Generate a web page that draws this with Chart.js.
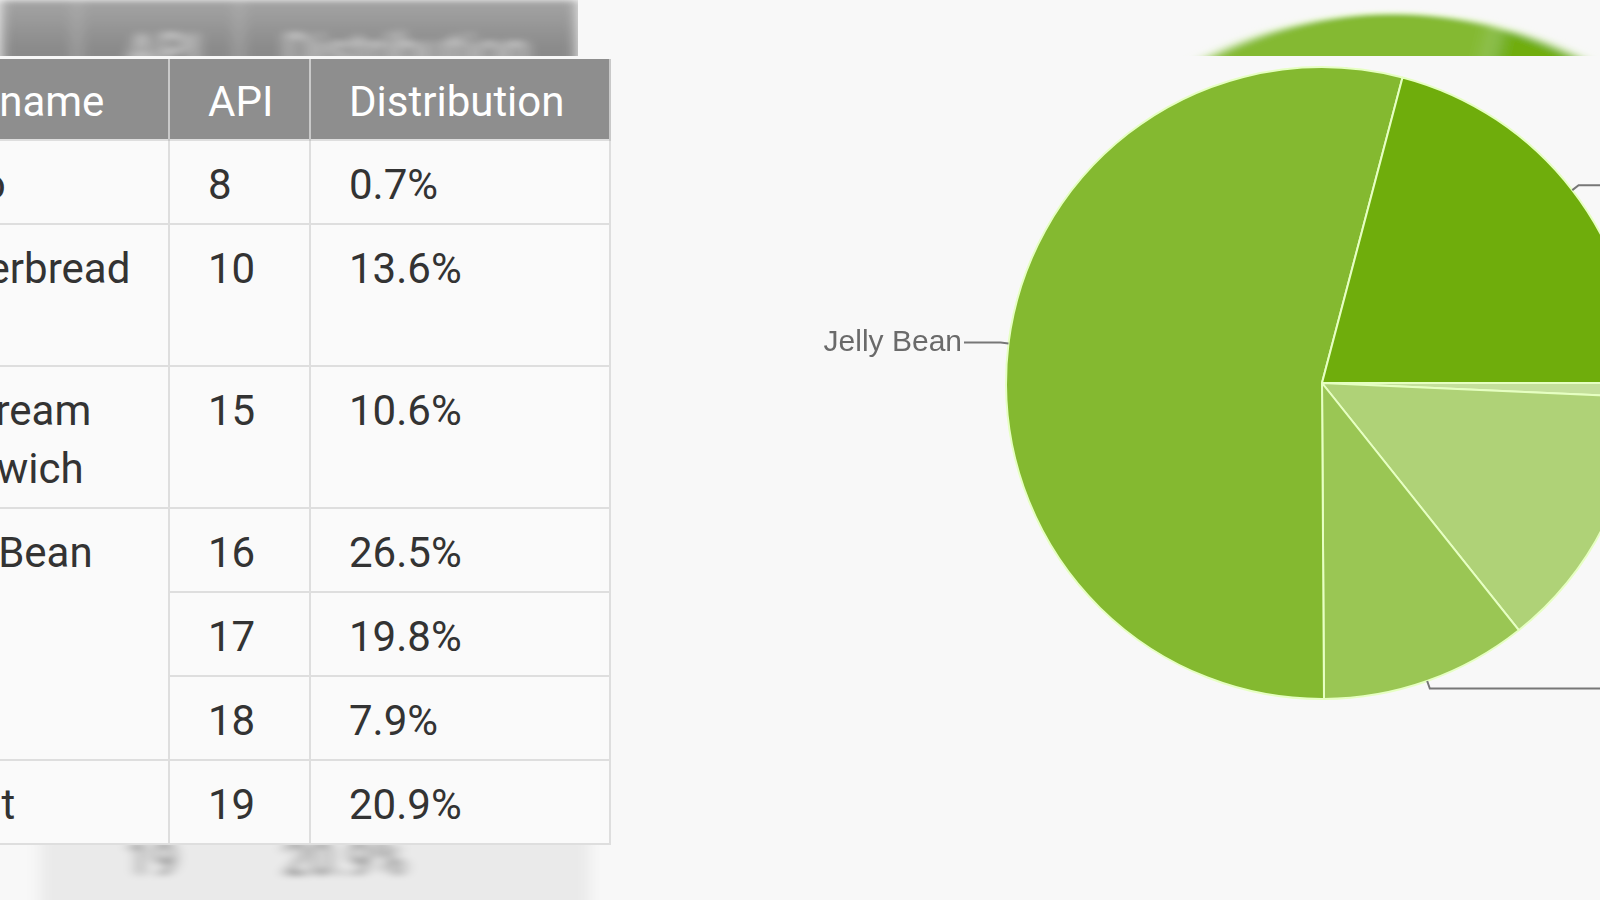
<!DOCTYPE html>
<html>
<head>
<meta charset="utf-8">
<script src="https://cdn.jsdelivr.net/npm/chart.js@4.4.1/dist/chart.umd.min.js"></script>
<style>
  html, body { margin: 0; padding: 0; width: 1600px; height: 900px; overflow: hidden; background: #f8f8f8; }
  #stage { position: relative; width: 1600px; height: 900px; overflow: hidden; font-family: Roboto, "Liberation Sans", sans-serif; }

  /* version table */
  #dist { position: absolute; left: -338px; top: 59px; width: 947px; table-layout: fixed; border-collapse: collapse;
          font-size: 42px; color: #333; background: #fafafa; }
  #dist th { background: #8e8e8e; color: #fff; font-weight: normal; text-align: left; line-height: 58px;
             padding: 14px 20px 8px 38px; border-left: 2px solid #c9c9c9; border-right: 2px solid #c9c9c9; }
  #dist td { line-height: 58px; vertical-align: top; padding: 15px 20px 9px 38px; border: 2px solid #dedede; }

  /* blurred ghost strips from the screenshot */
  .ghost { position: absolute; overflow: hidden; }
  #ghostTop { left: 0; top: 0; width: 578px; height: 56px; }
  #ghostTopInner { position: absolute; left: 0; top: 0; width: 578px; height: 70px; background: linear-gradient(#a4a4a4, #8a8a8a 70%);
                   filter: url(#hblur); font-size: 48px; color: #d4d4d4; }
  #ghostBottom { left: 0; top: 845px; width: 600px; height: 55px; }
  #ghostBottomInner { position: absolute; left: 40px; top: -6px; width: 550px; height: 70px; background: #eaeaea;
                      filter: url(#hblur); font-size: 46px; color: #505050; }
  .gtxt { position: absolute; line-height: 48px; white-space: nowrap; }
  .gsep { position: absolute; top: 0; width: 4px; height: 70px; background: #b8b8b8; }
  #ghostPie { left: 0; top: 0; width: 1600px; height: 56px; }
  #ghostPieBox { position: absolute; left: 943px; top: -26px; width: 900px; height: 900px; filter: url(#hblur2); }

  #pieBox { position: absolute; left: 672px; top: 0; width: 1300px; height: 766px; }
</style>
</head>
<body>
<svg width="0" height="0" style="position:absolute">
  <filter id="hblur" x="-10%" y="-50%" width="120%" height="200%"><feGaussianBlur stdDeviation="7 3"/></filter>
  <filter id="hblur2" x="-10%" y="-10%" width="120%" height="120%"><feGaussianBlur stdDeviation="9 2"/></filter>
</svg>
<div id="stage">
  <div class="ghost" id="ghostTop"><div id="ghostTopInner"></div></div>
  <div class="ghost" id="ghostPie"><div id="ghostPieBox"><canvas id="ghostCanvas"></canvas></div></div>
  <table id="dist">
    <colgroup><col style="width:200px"><col style="width:306px"><col style="width:141px"><col style="width:300px"></colgroup>
    <thead><tr id="headRow"></tr></thead>
    <tbody id="distBody"></tbody>
  </table>
  <div class="ghost" id="ghostBottom"><div id="ghostBottomInner"></div></div>
  <div id="pieBox"><canvas id="pieCanvas"></canvas></div>
</div>
<script>
// Platform versions table data
const tableHeaders = ['Version', 'Codename', 'API', 'Distribution'];
const versions = ['2.2', '2.3.3 - 2.3.7', '4.0.3 - 4.0.4', '4.1.x', '4.2.x', '4.3', '4.4'];
const codenames = ['Froyo', 'Gingerbread', 'Ice Cream Sandwich', 'Jelly Bean', 'Jelly Bean', 'Jelly Bean', 'KitKat'];
const apiLevels = [8, 10, 15, 16, 17, 18, 19];
const distribution = [0.7, 13.6, 10.6, 26.5, 19.8, 7.9, 20.9];

// Pie slices, one per codename
const pieLabels = ['Froyo', 'Gingerbread', 'Ice Cream Sandwich', 'Jelly Bean', 'KitKat'];
const pieColors = ['#c4df9b', '#afd277', '#9ac654', '#84b930', '#6fad0c'];

const pieValues = pieLabels.map(name => {
    let sum = 0;
    codenames.forEach((c, i) => { if (c === name) sum += distribution[i]; });
    return Math.round(sum * 10) / 10;
});

// Build the table
const headRow = document.getElementById('headRow');
tableHeaders.forEach(h => {
    const th = document.createElement('th');
    th.textContent = h;
    headRow.appendChild(th);
});
const body = document.getElementById('distBody');
versions.forEach((v, i) => {
    const tr = document.createElement('tr');
    const tdV = document.createElement('td');
    tdV.textContent = v;
    tr.appendChild(tdV);
    if (i === 0 || codenames[i - 1] !== codenames[i]) {
        let span = 1;
        while (codenames[i + span] === codenames[i]) span++;
        const tdC = document.createElement('td');
        tdC.textContent = codenames[i];
        tdC.rowSpan = span;
        tr.appendChild(tdC);
    }
    const tdA = document.createElement('td');
    tdA.textContent = apiLevels[i];
    tr.appendChild(tdA);
    const tdD = document.createElement('td');
    tdD.textContent = distribution[i].toFixed(1) + '%';
    tr.appendChild(tdD);
    body.appendChild(tr);
});

// Ghost strips (motion-blurred copies seen in the screenshot)
function ghostText(parent, text, left, top) {
    const d = document.createElement('div');
    d.className = 'gtxt';
    d.style.left = left + 'px';
    d.style.top = top + 'px';
    d.textContent = text;
    parent.appendChild(d);
}
function ghostSep(parent, left) {
    const d = document.createElement('div');
    d.className = 'gsep';
    d.style.left = left + 'px';
    parent.appendChild(d);
}
const gTop = document.getElementById('ghostTopInner');
ghostSep(gTop, 75);
ghostSep(gTop, 237);
ghostText(gTop, tableHeaders[2], 126, 27);
ghostText(gTop, tableHeaders[3], 283, 27);
const gBot = document.getElementById('ghostBottomInner');
ghostText(gBot, String(apiLevels[6]), 86, -4);
ghostText(gBot, distribution[6].toFixed(1) + '%', 243, -4);

// Leader-line labels like the old Google pie chart
const leaderLabels = {
    id: 'leaderLabels',
    afterDatasetsDraw(chart) {
        const ctx = chart.ctx;
        const meta = chart.getDatasetMeta(0);
        ctx.save();
        ctx.strokeStyle = '#777777';
        ctx.lineWidth = 2;
        ctx.fillStyle = '#6a6a6a';
        ctx.font = '30px "Liberation Sans", Arial, sans-serif';
        ctx.textBaseline = 'middle';
        meta.data.forEach((arc, i) => {
            const mid = (arc.startAngle + arc.endAngle) / 2;
            const r = arc.outerRadius;
            const x0 = arc.x + Math.cos(mid) * r;
            const y0 = arc.y + Math.sin(mid) * r;
            const x1 = arc.x + Math.cos(mid) * (r + 8);
            const y1 = arc.y + Math.sin(mid) * (r + 8);
            const right = Math.cos(mid) >= 0;
            const x2 = right ? arc.x + r + 60 : arc.x - r - 42;
            ctx.beginPath();
            ctx.moveTo(x0, y0);
            ctx.lineTo(x1, y1);
            ctx.lineTo(x2, y1);
            ctx.stroke();
            ctx.textAlign = right ? 'left' : 'right';
            ctx.fillText(chart.data.labels[i], right ? x2 + 4 : x2 - 2, y1);
        });
        ctx.restore();
    }
};

function pieConfig(radius, withLabels) {
    return {
        type: 'pie',
        data: {
            labels: pieLabels,
            datasets: [{
                data: pieValues,
                backgroundColor: pieColors,
                borderColor: '#e6ffc2',
                borderWidth: 2
            }]
        },
        options: {
            responsive: true,
            maintainAspectRatio: false,
            animation: false,
            rotation: 90,
            radius: radius,
            layout: { padding: 0 },
            plugins: {
                legend: { display: false },
                tooltip: { enabled: false }
            }
        },
        plugins: withLabels ? [leaderLabels] : []
    };
}

new Chart(document.getElementById('pieCanvas'), pieConfig(316, true));
new Chart(document.getElementById('ghostCanvas'), pieConfig(411, false));
</script>
</body>
</html>
